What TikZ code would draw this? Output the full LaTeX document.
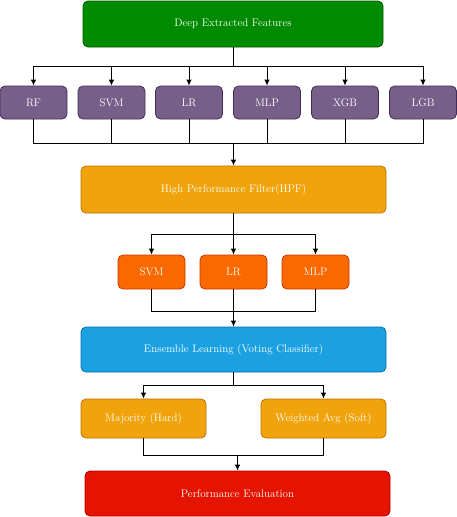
\documentclass[tikz,border=0pt]{standalone}
\usetikzlibrary{arrows.meta}

\definecolor{featGreen}{HTML}{008A00}
\definecolor{featGreenLine}{HTML}{005700}
\definecolor{clfPurple}{HTML}{76608A}
\definecolor{clfPurpleLine}{HTML}{432D57}
\definecolor{hpfAmber}{HTML}{F0A30A}
\definecolor{hpfAmberLine}{HTML}{BD7000}
\definecolor{selOrange}{HTML}{FA6800}
\definecolor{selOrangeLine}{HTML}{C73500}
\definecolor{ensBlue}{HTML}{1BA1E2}
\definecolor{ensBlueLine}{HTML}{006EAF}
\definecolor{evalRed}{HTML}{E51400}
\definecolor{evalRedLine}{HTML}{B20000}

\begin{document}
\begin{tikzpicture}[x=1pt,y=-1pt]
   \tikzset{BoxStyle/.style={rounded corners=5pt, draw, text=white, inner sep=0pt, line width=0.8pt, font=\fontsize{11}{13}\selectfont}}
   \tikzset{ClfStyle/.style={BoxStyle, fill=clfPurple, draw=clfPurpleLine, minimum width=67pt, minimum height=33pt}}
   \tikzset{SelStyle/.style={BoxStyle, fill=selOrange, draw=selOrangeLine, minimum width=67pt, minimum height=34pt}}
   \tikzset{VoteStyle/.style={BoxStyle, fill=hpfAmber, draw=hpfAmberLine, minimum width=125pt, minimum height=39pt}}
   \tikzset{EdgeStyle/.style={-{Latex[length=6pt,width=5.5pt]}, line width=0.9pt}}
   \tikzset{LineStyle/.style={line width=0.9pt}}
   \useasboundingbox (0,0) rectangle (457,517);
   % boxes
   \node[BoxStyle, fill=featGreen, draw=featGreenLine, minimum width=300pt, minimum height=46pt] (feat) at (233,24) {Deep Extracted Features};
   \node[ClfStyle] (rf) at (33.5,102.5) {RF};
   \node[ClfStyle] (svm) at (111.5,102.5) {SVM};
   \node[ClfStyle] (lr) at (189,102.5) {LR};
   \node[ClfStyle] (mlp) at (267,102.5) {MLP};
   \node[ClfStyle] (xgb) at (345,102.5) {XGB};
   \node[ClfStyle] (lgb) at (423,102.5) {LGB};
   \node[BoxStyle, fill=hpfAmber, draw=hpfAmberLine, minimum width=305pt, minimum height=47pt] (hpf) at (233.5,189.5) {High Performance Filter(HPF)};
   \node[SelStyle] (hsvm) at (151.5,272) {SVM};
   \node[SelStyle] (hlr) at (233.5,272) {LR};
   \node[SelStyle] (hmlp) at (315.5,272) {MLP};
   \node[BoxStyle, fill=ensBlue, draw=ensBlueLine, minimum width=305pt, minimum height=45pt] (ens) at (233.5,349.5) {Ensemble Learning (Voting Classifier)};
   \node[VoteStyle] (hard) at (143.5,418.5) {Majority (Hard)};
   \node[VoteStyle] (soft) at (323.5,418.5) {Weighted Avg (Soft)};
   \node[BoxStyle, fill=evalRed, draw=evalRedLine, minimum width=305pt, minimum height=45pt] (eval) at (237.5,493.5) {Performance Evaluation};
   % junctions
   \coordinate (split1) at (233,66);
   \coordinate (merge1) at (233.5,143);
   \coordinate (split2) at (233.5,234);
   \coordinate (merge2) at (233.5,311);
   \coordinate (split3) at (233.5,385);
   \coordinate (merge3) at (237.5,455);
   % connectors
   \draw[LineStyle] (feat) -- (split1);
   \draw[EdgeStyle] (split1) -| (rf);
   \draw[EdgeStyle] (split1) -| (svm);
   \draw[EdgeStyle] (split1) -| (lr);
   \draw[EdgeStyle] (split1) -| (mlp);
   \draw[EdgeStyle] (split1) -| (xgb);
   \draw[EdgeStyle] (split1) -| (lgb);
   \draw[LineStyle] (rf) |- (merge1);
   \draw[LineStyle] (svm) |- (merge1);
   \draw[LineStyle] (lr) |- (merge1);
   \draw[LineStyle] (mlp) |- (merge1);
   \draw[LineStyle] (xgb) |- (merge1);
   \draw[LineStyle] (lgb) |- (merge1);
   \draw[EdgeStyle] (merge1) -- (hpf);
   \draw[LineStyle] (hpf) -- (split2);
   \draw[EdgeStyle] (split2) -| (hsvm);
   \draw[EdgeStyle] (split2) -- (hlr);
   \draw[EdgeStyle] (split2) -| (hmlp);
   \draw[LineStyle] (hsvm) |- (merge2);
   \draw[LineStyle] (hlr) -- (merge2);
   \draw[LineStyle] (hmlp) |- (merge2);
   \draw[EdgeStyle] (merge2) -- (ens);
   \draw[LineStyle] (ens) -- (split3);
   \draw[EdgeStyle] (split3) -| (hard);
   \draw[EdgeStyle] (split3) -| (soft);
   \draw[LineStyle] (hard) |- (merge3);
   \draw[LineStyle] (soft) |- (merge3);
   \draw[EdgeStyle] (merge3) -- (eval);
\end{tikzpicture}
\end{document}
